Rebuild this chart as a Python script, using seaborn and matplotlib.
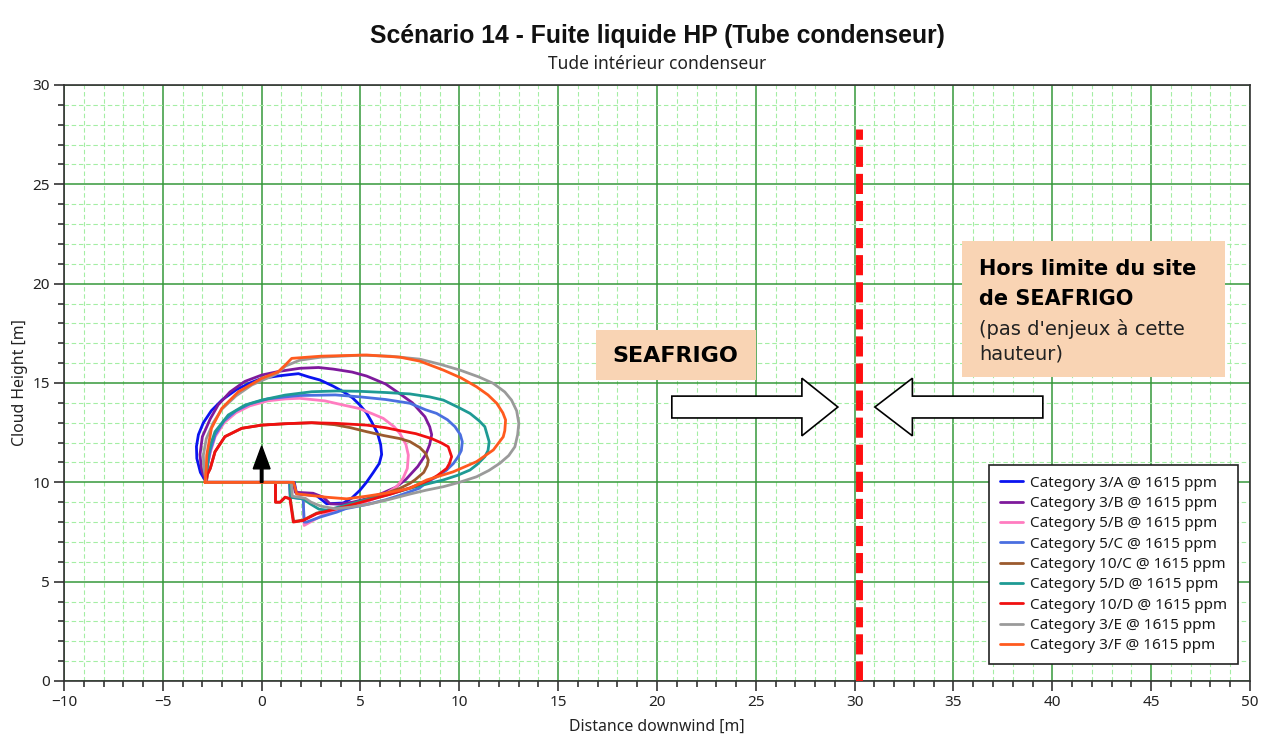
import numpy as np
import pandas as pd
import matplotlib
matplotlib.use("Agg")
import matplotlib.pyplot as plt
import seaborn as sns
from matplotlib.patches import FancyArrow, Rectangle

# ---------------- data ----------------
categories = ["Category 3/A @ 1615 ppm", "Category 3/B @ 1615 ppm", "Category 5/B @ 1615 ppm",
              "Category 5/C @ 1615 ppm", "Category 10/C @ 1615 ppm", "Category 5/D @ 1615 ppm",
              "Category 10/D @ 1615 ppm", "Category 3/E @ 1615 ppm", "Category 3/F @ 1615 ppm"]
colors = ["#0A14F0", "#7E1A9C", "#FF7CC0", "#4A6FE0", "#9B5A2E", "#1E9A94",
          "#F01010", "#9A9A9A", "#FF5A1E"]

cat_3A = [(-2.8, 10.0), (-3.1, 10.5), (-3.28, 11.2), (-3.3, 11.8), (-3.2, 12.4), (-2.95, 13.0),
          (-2.55, 13.6), (-2.0, 14.15), (-1.3, 14.65), (-0.6, 15.0), (0.0, 15.23), (0.8, 15.35),
          (1.4, 15.42), (1.86, 15.47), (2.4, 15.3), (2.95, 15.15), (3.6, 14.85), (4.13, 14.56),
          (4.6, 14.25), (4.97, 13.89), (5.3, 13.5), (5.56, 13.05), (5.85, 12.5), (6.02, 11.9),
          (6.07, 11.4), (5.95, 10.95), (5.65, 10.5), (5.3, 10.0), (4.97, 9.6), (4.55, 9.2),
          (4.13, 8.96), (3.29, 8.92), (2.78, 9.33), (1.77, 9.42), (1.65, 10.0), (-2.8, 10.0)]
cat_3B = [(-2.8, 10.0), (-3.05, 10.7), (-3.12, 11.4), (-3.0, 12.3), (-2.6, 13.2), (-2.2, 13.9),
          (-1.6, 14.55), (-0.85, 15.08), (0.0, 15.4), (0.85, 15.58), (1.93, 15.74), (2.88, 15.78),
          (3.62, 15.7), (4.58, 15.55), (5.31, 15.35), (6.27, 14.95), (7.0, 14.45), (7.63, 14.0),
          (8.26, 13.3), (8.5, 12.8), (8.6, 12.4), (8.5, 11.9), (8.3, 11.4), (7.9, 10.8),
          (7.3, 10.15), (6.78, 9.75), (6.1, 9.45), (5.42, 9.2), (4.6, 9.0), (3.9, 8.9),
          (3.46, 8.92), (3.12, 9.25), (2.6, 9.45), (1.7, 9.5), (1.6, 10.0), (-2.8, 10.0)]
cat_5B = [(-2.8, 10.0), (-2.75, 10.8), (-2.6, 11.5), (-2.35, 12.3), (-1.9, 13.0), (-1.3, 13.5),
          (-0.6, 13.85), (0.3, 14.1), (1.2, 14.2), (1.93, 14.23), (3.2, 14.1), (4.13, 13.89),
          (4.92, 13.72), (5.6, 13.45), (6.15, 13.22), (6.7, 12.8), (7.0, 12.45), (7.3, 11.9),
          (7.42, 11.37), (7.37, 10.7), (7.15, 10.2), (6.85, 9.8), (6.27, 9.42), (5.5, 9.1),
          (4.9, 8.9), (4.0, 8.65), (3.29, 8.45), (2.6, 8.08), (2.15, 7.83), (2.1, 9.2),
          (1.45, 9.25), (1.4, 10.0), (-2.8, 10.0)]
cat_5C = [(-2.8, 10.0), (-2.75, 10.8), (-2.6, 11.6), (-2.35, 12.4), (-1.9, 13.1), (-1.3, 13.6),
          (-0.6, 13.95), (0.3, 14.2), (1.19, 14.3), (1.93, 14.37), (3.73, 14.4), (5.0, 14.3),
          (6.27, 14.17), (7.5, 13.98), (8.3, 13.65), (8.85, 13.47), (9.4, 13.15), (9.78, 12.8),
          (10.05, 12.4), (10.15, 12.04), (10.1, 11.6), (9.94, 11.29), (9.7, 10.95), (9.36, 10.62),
          (8.9, 10.3), (8.35, 10.0), (7.97, 9.7), (7.0, 9.35), (6.27, 9.12), (5.3, 8.88),
          (4.24, 8.67), (3.8, 8.5), (2.95, 8.25), (2.28, 8.0), (2.15, 8.0), (2.1, 9.17),
          (1.45, 9.25), (1.4, 10.0), (-2.8, 10.0)]
cat_10C = [(-2.8, 10.0), (-2.75, 10.4), (-2.6, 10.7), (-2.36, 11.54), (-1.86, 12.3), (-1.01, 12.72),
           (0.0, 12.88), (1.19, 12.95), (2.53, 13.0), (3.7, 12.9), (4.5, 12.75), (5.31, 12.55),
           (6.2, 12.35), (7.0, 12.2), (7.5, 12.05), (8.0, 11.75), (8.3, 11.45), (8.43, 11.12),
           (8.38, 10.85), (8.2, 10.5), (7.75, 10.12), (7.5, 9.95), (7.0, 9.7), (6.3, 9.45),
           (5.5, 9.2), (4.5, 8.9), (3.8, 8.7), (2.78, 8.45), (2.1, 8.1), (1.62, 8.03),
           (1.45, 9.17), (1.2, 9.25), (0.95, 9.0), (0.7, 9.0), (0.7, 10.0), (-2.8, 10.0)]
cat_5D = [(-2.8, 10.0), (-2.75, 10.7), (-2.7, 11.37), (-2.55, 12.0), (-2.36, 12.55), (-1.69, 13.39),
          (-0.84, 13.89), (0.0, 14.14), (1.18, 14.39), (2.53, 14.56), (3.8, 14.6), (5.0, 14.58),
          (6.3, 14.52), (7.5, 14.45), (8.5, 14.3), (9.19, 14.14), (10.0, 13.75), (10.54, 13.47),
          (11.0, 13.1), (11.29, 12.8), (11.51, 12.04), (11.45, 11.6), (11.29, 11.29), (10.9, 10.9),
          (10.54, 10.62), (9.9, 10.35), (9.19, 10.12), (8.3, 9.9), (7.5, 9.7), (6.3, 9.35),
          (5.0, 9.05), (4.0, 8.78), (3.3, 8.6), (2.9, 8.65), (2.45, 8.92), (2.1, 9.17),
          (1.45, 9.25), (1.43, 10.0), (-2.8, 10.0)]
cat_10D = [(-2.8, 10.0), (-2.75, 10.4), (-2.6, 10.7), (-2.36, 11.54), (-1.86, 12.3), (-1.01, 12.72),
           (0.0, 12.88), (1.19, 12.95), (2.53, 13.0), (3.73, 12.97), (5.31, 12.88), (6.27, 12.75),
           (7.0, 12.6), (7.8, 12.45), (8.6, 12.2), (9.1, 11.98), (9.44, 11.79), (9.61, 11.29),
           (9.5, 10.95), (9.36, 10.7), (8.9, 10.35), (8.51, 10.12), (7.5, 9.72), (6.5, 9.4),
           (5.4, 9.1), (4.5, 8.85), (3.8, 8.67), (2.78, 8.42), (2.1, 8.08), (1.6, 8.0),
           (1.43, 9.17), (1.18, 9.25), (0.93, 9.0), (0.7, 9.0), (0.7, 10.0), (-2.8, 10.0)]
cat_3E = [(-2.8, 10.0), (-2.92, 10.7), (-2.95, 11.37), (-2.8, 12.2), (-2.45, 13.0), (-2.0, 13.7),
          (-1.3, 14.35), (-0.5, 14.9), (0.3, 15.25), (0.75, 15.45), (1.2, 15.85), (1.93, 16.15),
          (3.0, 16.3), (5.0, 16.4), (6.5, 16.35), (8.0, 16.2), (9.0, 15.95), (10.03, 15.65),
          (11.0, 15.3), (11.72, 14.98), (12.3, 14.55), (12.64, 14.14), (12.9, 13.6), (13.01, 12.97),
          (12.95, 12.4), (12.81, 11.79), (12.5, 11.35), (12.05, 10.96), (11.5, 10.6), (10.87, 10.28),
          (10.0, 10.0), (9.19, 9.78), (8.3, 9.6), (7.5, 9.41), (6.5, 9.15), (5.42, 8.9),
          (4.5, 8.75), (3.73, 8.67), (3.0, 8.8), (2.5, 9.0), (2.2, 9.2), (1.55, 9.3),
          (1.5, 10.0), (-2.8, 10.0)]
cat_3F = [(-2.87, 10.0), (-2.8, 10.7), (-2.78, 11.37), (-2.54, 12.72), (-2.02, 13.72), (-1.18, 14.56),
          (0.0, 15.23), (0.68, 15.5), (0.84, 15.57), (1.19, 15.9), (1.52, 16.24), (3.0, 16.35),
          (5.31, 16.41), (7.0, 16.3), (8.0, 16.1), (9.19, 15.65), (10.1, 15.25), (10.87, 14.81),
          (11.45, 14.4), (11.89, 13.98), (12.2, 13.5), (12.34, 13.14), (12.3, 12.6), (12.22, 12.29),
          (11.72, 11.63), (10.87, 11.04), (9.69, 10.53), (8.35, 10.12), (7.5, 9.7), (6.27, 9.45),
          (5.3, 9.3), (4.3, 9.17), (3.29, 9.25), (1.77, 9.42), (1.62, 10.0), (-2.87, 10.0)]
series = [cat_3A, cat_3B, cat_5B, cat_5C, cat_10C, cat_5D, cat_10D, cat_3E, cat_3F]

x_ticks = [-10, -5, 0, 5, 10, 15, 20, 25, 30, 35, 40, 45, 50]
y_ticks = [0, 5, 10, 15, 20, 25, 30]

site_limit_x = 30.2
site_limit_top = 27.8
source_x, source_y, source_rise = 0.0, 10.0, 1.83

title = "Scénario 14 - Fuite liquide HP (Tube condenseur)"
subtitle = "Tude intérieur condenseur"
x_label = "Distance downwind [m]"
y_label = "Cloud Height [m]"

# ---------------- build dataframe ----------------
rows = []
for cat, pts in zip(categories, series):
    for i, (x, y) in enumerate(pts):
        rows.append({"category": cat, "x": x, "y": y, "order": i})
df = pd.DataFrame(rows)

sns.set_theme(style="white")
plt.rcParams["font.family"] = ["Noto Sans", "DejaVu Sans"]

W, H = 1261, 750
fig = plt.figure(figsize=(W / 100, H / 100), dpi=100)
ax = fig.add_axes([64 / W, 1 - 681 / H, (1250 - 64) / W, (681 - 85) / H])

sns.lineplot(data=df, x="x", y="y", hue="category", hue_order=categories,
             palette=dict(zip(categories, colors)), sort=False, estimator=None,
             linewidth=2.0, ax=ax, legend=True)
for ln in ax.get_lines():
    ln.set_solid_joinstyle("round")
    ln.set_solid_capstyle("round")

ax.set_xlim(-10, 50)
ax.set_ylim(0, 30)
ax.set_xticks(x_ticks)
ax.set_yticks(y_ticks)
ax.set_xticks(np.arange(-10, 51, 1), minor=True)
ax.set_yticks(np.arange(0, 31, 1), minor=True)
ax.set_axisbelow(True)
ax.grid(which="minor", color="#A4EEA4", linestyle=(0, (4, 2.5)), linewidth=0.8)
ax.grid(which="major", color="#35983A", linestyle="-", linewidth=1.1)
ax.tick_params(which="major", direction="out", length=7, width=1.1, color="#222222",
               labelsize=11, labelcolor="#222222", bottom=True, left=True, pad=3)
ax.tick_params(which="minor", direction="out", length=4, width=1.1, color="#222222",
               bottom=True, left=True)
for s in ax.spines.values():
    s.set_color("#333333")
    s.set_linewidth(1.2)
ax.set_xlabel("")
ax.set_ylabel("")

# site limit
ax.plot([site_limit_x, site_limit_x], [0, site_limit_top], color="#FF1010", linewidth=5,
        dashes=(2.9, 1.0), solid_capstyle="butt", zorder=5)

# source arrow
ax.add_patch(FancyArrow(source_x, source_y, 0, source_rise, width=0.13, head_width=0.85,
                        head_length=1.15, length_includes_head=True, color="black", zorder=6))

# hollow block arrows
ax.add_patch(FancyArrow(20.75, 13.79, 8.4, 0, width=1.1, head_width=2.9, head_length=1.82,
                        length_includes_head=True, facecolor="white", edgecolor="black",
                        linewidth=1.2, zorder=6))
ax.add_patch(FancyArrow(39.52, 13.79, -8.5, 0, width=1.1, head_width=2.9, head_length=1.9,
                        length_includes_head=True, facecolor="white", edgecolor="black",
                        linewidth=1.2, zorder=6))

# text boxes
peach = "#F9D4B4"
box_font = "DejaVu Sans"
ax.add_patch(Rectangle((16.9, 15.15), 8.1, 2.52, facecolor=peach, edgecolor="none", zorder=6))
ax.text(20.95, 16.35, "SEAFRIGO", ha="center", va="center", fontsize=16, fontweight="bold",
        family=box_font, color="black", zorder=7)
ax.add_patch(Rectangle((35.42, 15.3), 13.31, 6.84, facecolor=peach, edgecolor="none", zorder=6))
ax.text(36.3, 20.75, "Hors limite du site", ha="left", va="center", fontsize=15,
        fontweight="bold", family=box_font, color="black", zorder=7)
ax.text(36.3, 19.25, "de SEAFRIGO", ha="left", va="center", fontsize=15,
        fontweight="bold", family=box_font, color="black", zorder=7)
ax.text(36.3, 17.7, "(pas d'enjeux à cette", ha="left", va="center", fontsize=14,
        family=box_font, color="#222222", zorder=7)
ax.text(36.3, 16.45, "hauteur)", ha="left", va="center", fontsize=14,
        family=box_font, color="#222222", zorder=7)

# legend
handles, labels = ax.get_legend_handles_labels()
leg = ax.legend(handles, labels, loc="upper left", bbox_to_anchor=(0.78, 0.3624),
                borderaxespad=0, frameon=True, fancybox=False, fontsize=11,
                handlelength=1.5, handletextpad=0.5, labelspacing=0.35,
                borderpad=0.7)
leg.get_frame().set_edgecolor("#222222")
leg.get_frame().set_linewidth(1.2)
leg.get_frame().set_facecolor("white")
leg.get_frame().set_alpha(1)
leg.set_zorder(10)
for t in leg.get_texts():
    t.set_color("#1A1A1A")

# titles and labels
fig.text(657 / W, 1 - 36 / H, title, ha="center", va="center", fontsize=17.8, fontweight="bold",
         family=["Liberation Sans", "DejaVu Sans"], color="#111111")
fig.text(657 / W, 1 - 64 / H, subtitle, ha="center", va="center", fontsize=12.5, color="#222222")
fig.text(657 / W, 1 - 727 / H, x_label, ha="center", va="center", fontsize=11.4, color="#222222")
fig.text(20 / W, 1 - 383 / H, y_label, ha="center", va="center", fontsize=11.4, rotation=90,
         color="#222222")

fig.savefig("out.png", dpi=100)
